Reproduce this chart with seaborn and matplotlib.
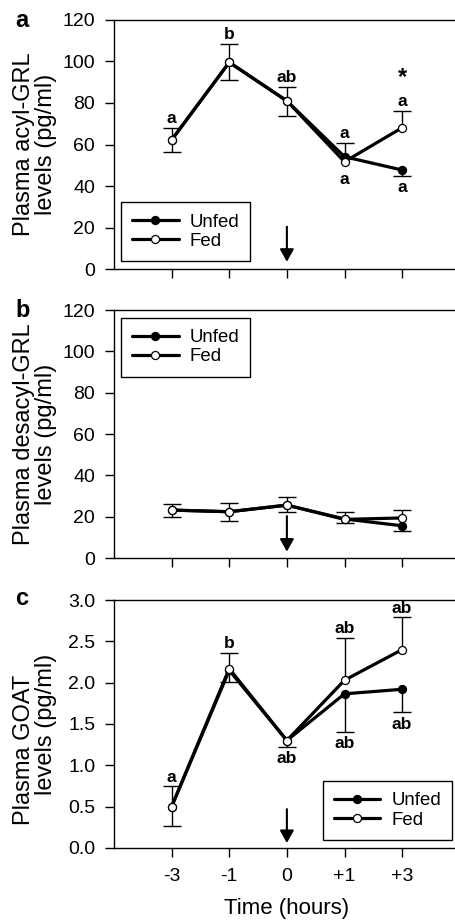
import numpy as np
import seaborn as sns
import matplotlib.pyplot as plt

# Eixo x (categorias de tempo)
time_labels = ['-3', '-1', '0', '+1', '+3']

# Painel a - acyl-GRL (pg/ml)
acyl_unfed = [62.2, 99.6, 81.0, 54.1, 47.7]
acyl_fed = [62.2, 99.6, 81.0, 51.7, 68.1]
acyl_unfed_err = [5.7, 8.5, 7.4, 0.0, 2.7]
acyl_fed_err = [5.6, 8.7, 6.9, 9.2, 8.2]
acyl_top = ['a', 'b', 'ab', 'a', 'a']
acyl_bottom = ['', '', '', 'a', 'a']
acyl_star = ['', '', '', '', '*']

# Painel b - desacyl-GRL (pg/ml)
desacyl_unfed = [23.2, 22.4, 25.6, 18.9, 15.6]
desacyl_fed = [23.2, 22.4, 25.6, 18.7, 19.4]
desacyl_unfed_err = [3.2, 4.5, 3.5, 2.0, 2.5]
desacyl_fed_err = [2.9, 4.4, 3.8, 3.7, 3.6]
desacyl_top = ['', '', '', '', '']
desacyl_bottom = ['', '', '', '', '']
desacyl_star = ['', '', '', '', '']

# Painel c - GOAT (pg/ml)
goat_unfed = [0.50, 2.15, 1.30, 1.865, 1.92]
goat_fed = [0.50, 2.17, 1.30, 2.03, 2.40]
goat_unfed_err = [0.24, 0.14, 0.073, 0.465, 0.28]
goat_fed_err = [0.245, 0.185, 0.0, 0.51, 0.39]
goat_top = ['a', 'b', '', 'ab', 'ab']
goat_bottom = ['', '', 'ab', 'ab', 'ab']
goat_star = ['', '', '', '', '']

# seta de alimentação (tempo 0): inicio e fim em unidades do eixo y
arrow_a = (20.4, 3.5)
arrow_b = (20.3, 3.1)
arrow_c = (0.47, 0.06)

sns.set_style("ticks")
plt.rcParams['font.family'] = ['Liberation Sans', 'DejaVu Sans']
plt.rcParams['text.color'] = 'black'
plt.rcParams['axes.labelcolor'] = 'black'
plt.rcParams['xtick.color'] = 'black'
plt.rcParams['ytick.color'] = 'black'
plt.rcParams['axes.edgecolor'] = 'black'

fig = plt.figure(figsize=(4.55, 9.21), dpi=100)
x = np.arange(len(time_labels))


def painel(rect, unfed, fed, unfed_err, fed_err, top, bottom, star, arrow,
           ylim, yticks, fmt, ylabel, letter, letter_y, leg_loc, leg_anchor,
           show_x):
    ax = fig.add_axes(rect)

    # barras de erro: Fed para cima, Unfed para baixo
    ue = np.where(np.array(unfed_err) > 0, unfed_err, np.nan)
    fe = np.where(np.array(fed_err) > 0, fed_err, np.nan)
    eb = ax.errorbar(x, unfed, yerr=[ue, np.zeros(len(x))], fmt='none', ecolor='black',
                     elinewidth=1.0, capsize=6.5, capthick=1.0, zorder=2)
    eb[1][1].set_visible(False)
    eb = ax.errorbar(x, fed, yerr=[np.zeros(len(x)), fe], fmt='none', ecolor='black',
                     elinewidth=1.0, capsize=6.5, capthick=1.0, zorder=2)
    eb[1][0].set_visible(False)

    sns.lineplot(x=x, y=unfed, ax=ax, color='black', linewidth=2.3, marker='o',
                 markersize=5.8, markerfacecolor='black', markeredgecolor='black',
                 markeredgewidth=0.9, label='Unfed', zorder=3)
    sns.lineplot(x=x, y=fed, ax=ax, color='black', linewidth=2.3, marker='o',
                 markersize=5.8, markerfacecolor='white', markeredgecolor='black',
                 markeredgewidth=0.9, label='Fed', zorder=4)

    # letras de significância
    for i in range(len(x)):
        up = fed[i] + fed_err[i]
        lo = min(unfed[i] - unfed_err[i], fed[i])
        if top[i]:
            ax.annotate(top[i], (x[i], up), xytext=(0, 3.5), textcoords='offset points',
                        ha='center', va='baseline', fontsize=12.5, fontweight='bold')
        if star[i]:
            ax.annotate(star[i], (x[i], up), xytext=(0, 15.5), textcoords='offset points',
                        ha='center', va='bottom', fontsize=17, fontweight='bold')
        if bottom[i]:
            extra = 0 if unfed_err[i] > 0 else 4.5
            ax.annotate(bottom[i], (x[i], lo), xytext=(0, -3 - extra), textcoords='offset points',
                        ha='center', va='top', fontsize=12.5, fontweight='bold')

    # seta
    ax.annotate('', xy=(2, arrow[1]), xytext=(2, arrow[0]),
                arrowprops=dict(arrowstyle='-|>,head_length=0.75,head_width=0.42',
                                color='black', lw=1.5, mutation_scale=10,
                                shrinkA=0, shrinkB=0))

    ax.set_xlim(-1, 5)
    ax.set_ylim(*ylim)
    ax.set_yticks(yticks)
    ax.set_yticklabels([fmt.format(v) for v in yticks])
    ax.set_xticks(x)
    if show_x:
        ax.set_xticklabels(time_labels)
        ax.set_xlabel('Time (hours)', fontsize=16, labelpad=9)
    else:
        ax.set_xticklabels([])
        ax.set_xlabel('')
    ax.tick_params(axis='y', direction='out', length=6.5, width=1, pad=7, labelsize=14)
    ax.tick_params(axis='x', direction='out', length=6.5, width=1, pad=8, labelsize=14)

    for s in ['left', 'bottom', 'top']:
        ax.spines[s].set_linewidth(1.0)
        ax.spines[s].set_color('black')
    ax.spines['right'].set_visible(False)

    ax.set_ylabel(ylabel, fontsize=17, linespacing=1.0)
    ax.yaxis.set_label_coords(-0.165, 0.5)

    leg = ax.legend(loc=leg_loc, bbox_to_anchor=leg_anchor, borderaxespad=0,
                    fontsize=13.4, frameon=True, fancybox=False, framealpha=1,
                    edgecolor='black', handlelength=2.5, handletextpad=0.58,
                    borderpad=0.6, labelspacing=0.12)
    leg.get_frame().set_linewidth(1.0)

    fig.text(0.033, letter_y, letter, fontsize=17, fontweight='bold',
             ha='left', va='baseline')
    return ax


painel([0.2505, 0.7079, 0.76, 0.2704], acyl_unfed, acyl_fed, acyl_unfed_err, acyl_fed_err,
       acyl_top, acyl_bottom, acyl_star, arrow_a, (0, 120), [0, 20, 40, 60, 80, 100, 120],
       '{:.0f}', 'Plasma acyl-GRL\nlevels (pg/ml)', 'a', 0.9707,
       'lower left', (0.02, 0.032), False)

painel([0.2505, 0.3941, 0.76, 0.2693], desacyl_unfed, desacyl_fed, desacyl_unfed_err,
       desacyl_fed_err, desacyl_top, desacyl_bottom, desacyl_star, arrow_b, (0, 120),
       [0, 20, 40, 60, 80, 100, 120], '{:.0f}', 'Plasma desacyl-GRL\nlevels (pg/ml)',
       'b', 0.656, 'upper left', (0.02, 0.968), False)

painel([0.2505, 0.0793, 0.76, 0.2692], goat_unfed, goat_fed, goat_unfed_err, goat_fed_err,
       goat_top, goat_bottom, goat_star, arrow_c, (0, 3.0), [0.0, 0.5, 1.0, 1.5, 2.0, 2.5, 3.0],
       '{:.1f}', 'Plasma GOAT        \nlevels (pg/ml)', 'c', 0.343,
       'lower right', (0.978, 0.033), True)

plt.savefig('out.png', dpi=100)
plt.close()
